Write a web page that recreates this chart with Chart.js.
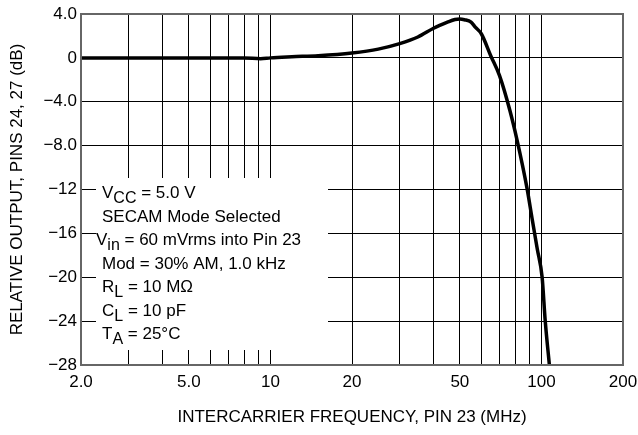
<!DOCTYPE html>
<html>
<head>
<meta charset="utf-8">
<script src="https://cdn.jsdelivr.net/npm/chart.js@4/dist/chart.umd.min.js"></script>
<style>
  html, body { margin: 0; padding: 0; background: #fff; }
  #wrap { width: 638px; height: 435px; }
</style>
</head>
<body>
<div id="wrap"><canvas id="c" width="638" height="435"></canvas></div>
<script>
// curve
const freqMHz = [2, 5, 8, 9.2, 10, 12, 15, 20, 25, 30, 35, 40, 45, 48, 50, 52, 55, 57, 60, 65, 70, 76.5, 81.3, 88.5, 92.3, 96.5, 100.6, 103.3, 107];
const outputDb = [0, 0, 0, -0.08, 0, 0.1, 0.2, 0.45, 0.8, 1.3, 1.9, 2.7, 3.25, 3.5, 3.55, 3.48, 3.26, 2.8, 2.2, 0.2, -1.6, -4.8, -7.5, -11.9, -14.6, -17.4, -20, -24, -28];

const xGridValues = [2, 3, 4, 5, 6, 7, 8, 9, 10, 20, 30, 40, 50, 60, 70, 80, 90, 100, 200];
const xTickValues = [2, 5, 10, 20, 50, 100, 200];
const xTickLabels = ["2.0", "5.0", "10", "20", "50", "100", "200"];
const yTickValues = [4, 0, -4, -8, -12, -16, -20, -24, -28];
const yTickLabels = ["4.0", "0", "\u22124.0", "\u22128.0", "\u221212", "\u221216", "\u221220", "\u221224", "\u221228"];

const conditions = [
  [["V", 0], ["CC", 1], [" = 5.0 V", 0]],
  [["SECAM Mode Selected", 0]],
  [["V", 0], ["in", 1], [" = 60 mVrms into Pin 23", 0]],
  [["Mod = 30% AM, 1.0 kHz", 0]],
  [["R", 0], ["L", 1], [" = 10 M\u03A9", 0]],
  [["C", 0], ["L", 1], [" = 10 pF", 0]],
  [["T", 0], ["A", 1], [" = 25\u00B0C", 0]]
];

const FONT = "'Liberation Sans', Arial, sans-serif";

const notePlugin = {
  id: "note",
  beforeDatasetsDraw(chart) {
    const ctx = chart.ctx;
    const area = chart.chartArea;
    ctx.save();
    // white block over the grid behind the test conditions
    ctx.fillStyle = "#fff";
    ctx.fillRect(area.left + 15, 178, 232, 172);
    ctx.fillStyle = "#000";
    ctx.textBaseline = "alphabetic";
    conditions.forEach((parts, i) => {
      let x = i === 2 ? area.left + 15 : area.left + 21;
      const y = 198 + i * 23.5;
      parts.forEach(([txt, sub]) => {
        ctx.font = (sub ? "16px " : "17px ") + FONT;
        ctx.fillText(txt, x, sub ? y + 5 : y);
        x += ctx.measureText(txt).width;
      });
    });
    ctx.restore();
  },
  afterDraw(chart) {
    const ctx = chart.ctx;
    const a = chart.chartArea;
    ctx.save();
    ctx.strokeStyle = "#666";
    ctx.lineWidth = 2;
    ctx.strokeRect(a.left, a.top, a.right - a.left, a.bottom - a.top);
    ctx.restore();
  }
};

new Chart(document.getElementById("c"), {
  type: "line",
  data: {
    datasets: [{
      data: freqMHz.map((f, i) => ({ x: f, y: outputDb[i] })),
      borderColor: "#000",
      borderWidth: 3.5,
      pointRadius: 0,
      fill: false,
      cubicInterpolationMode: "monotone"
    }]
  },
  options: {
    responsive: false,
    animation: false,
    layout: { padding: { top: 14, right: 15, left: 0, bottom: 0 } },
    plugins: { legend: { display: false }, tooltip: { enabled: false } },
    scales: {
      x: {
        type: "logarithmic",
        min: 2,
        max: 200,
        afterBuildTicks(axis) {
          axis.ticks = xGridValues.map(v => ({ value: v }));
        },
        afterFit(axis) {
          axis.height = 70;
          axis.paddingLeft = 0;
          axis.paddingRight = 0;
        },
        grid: { color: "#000", lineWidth: 1, drawTicks: false },
        border: { display: false },
        ticks: {
          autoSkip: false,
          maxRotation: 0,
          padding: 7,
          color: "#000",
          font: { family: FONT, size: 17 },
          callback(v) {
            const k = xTickValues.indexOf(v);
            return k >= 0 ? xTickLabels[k] : "";
          }
        },
        title: {
          display: true,
          text: "INTERCARRIER FREQUENCY, PIN 23 (MHz)",
          color: "#000",
          font: { family: FONT, size: 17 },
          padding: { top: 0, bottom: 7 }
        }
      },
      y: {
        min: -28,
        max: 4,
        afterBuildTicks(axis) {
          axis.ticks = yTickValues.map(v => ({ value: v }));
        },
        afterFit(axis) {
          axis.width = 81;
          axis.paddingTop = 0;
          axis.paddingBottom = 0;
        },
        grid: { color: "#000", lineWidth: 1, drawTicks: false },
        border: { display: false },
        ticks: {
          padding: 4,
          color: "#000",
          font: { family: FONT, size: 17 },
          callback(v) {
            const k = yTickValues.indexOf(v);
            return k >= 0 ? yTickLabels[k] : "";
          }
        },
        title: {
          display: true,
          text: "RELATIVE OUTPUT, PINS 24, 27 (dB)",
          color: "#000",
          font: { family: FONT, size: 17 },
          padding: { top: 7, bottom: 0 }
        }
      }
    }
  },
  plugins: [notePlugin]
});
</script>
</body>
</html>
